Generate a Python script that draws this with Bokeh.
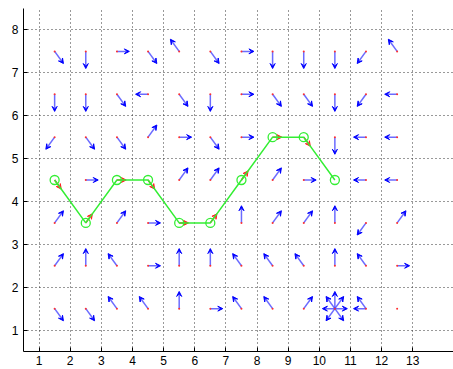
import numpy as np
from bokeh.plotting import figure
from bokeh.models import ColumnDataSource, Arrow, VeeHead, FixedTicker, Range1d
from bokeh.embed import file_html
from bokeh.resources import INLINE

# ---- data ----
col_centers = [1.5, 2.5, 3.5, 4.5, 5.5, 6.5, 7.5, 8.5, 9.5, 10.5, 11.5, 12.5]
row_centers = [7.5, 6.5, 5.5, 4.5, 3.5, 2.5, 1.5]
# policy per cell; "P" = on path, "." = no action, "+" joins several actions
policy_row_75 = ["SE", "S", "E", "SE", "NW", "SE", "E", "S", "S", "S", "SW", "NW"]
policy_row_65 = ["S", "S", "SE", "W", "SE", "S", "E", "SE", "SE", "S", "SW", "W"]
policy_row_55 = ["SW", "SE", "SE", "NE", "E", "SE", "E", "P", "P", "S", "W", "W"]
policy_row_45 = ["P", "E", "P", "P", "NE", "NE", "P", "NE", "E", "P", "W", "W"]
policy_row_35 = ["NE", "P", "NE", "E", "P", "P", "N", "NE", "NE", "N", "SW", "NE"]
policy_row_25 = ["NE", "N", "NW", "E", "N", "N", "NW", "NW", "NW", "N", "NW", "E"]
policy_row_15 = ["SE", "SE", "NW", "NW", "N", "E", "NW", "NW", "NE",
                 "N+NE+NW+E+W+SE+SW", "NW+W", "."]
policy = [policy_row_75, policy_row_65, policy_row_55, policy_row_45,
          policy_row_35, policy_row_25, policy_row_15]

path_x = [1.5, 2.5, 3.5, 4.5, 5.5, 6.5, 7.5, 8.5, 9.5, 10.5]
path_y = [4.5, 3.5, 4.5, 4.5, 3.5, 3.5, 4.5, 5.5, 5.5, 4.5]

x_ticks = [1, 2, 3, 4, 5, 6, 7, 8, 9, 10, 11, 12, 13]
y_ticks = [1, 2, 3, 4, 5, 6, 7, 8]

DIRS = {"N": (0, 1), "S": (0, -1), "E": (1, 0), "W": (-1, 0),
        "NE": (1, 1), "NW": (-1, 1), "SE": (1, -1), "SW": (-1, -1)}
ARROW_LEN = 0.4
PATH_ARROW_LEN = 0.3

# ---- build arrow endpoints from policy ----
x0, y0, x1, y1 = [], [], [], []
bx, by = [], []
for r, row in enumerate(policy):
    for c, cell in enumerate(row):
        cx, cy = col_centers[c], row_centers[r]
        if cell == "P":
            continue
        bx.append(cx); by.append(cy)
        if cell == ".":
            continue
        for d in cell.split("+"):
            ux, uy = DIRS[d]
            n = np.hypot(ux, uy)
            x0.append(cx); y0.append(cy)
            x1.append(cx + ARROW_LEN * ux / n)
            y1.append(cy + ARROW_LEN * uy / n)

px0, py0, px1, py1 = [], [], [], []
for i in range(len(path_x) - 1):
    dx = path_x[i + 1] - path_x[i]
    dy = path_y[i + 1] - path_y[i]
    n = np.hypot(dx, dy)
    px0.append(path_x[i]); py0.append(path_y[i])
    px1.append(path_x[i] + PATH_ARROW_LEN * dx / n)
    py1.append(path_y[i] + PATH_ARROW_LEN * dy / n)

# ---- figure ----
p = figure(width=453, height=369, x_range=Range1d(0.5, 14.31), y_range=Range1d(0.5, 8.5),
           output_backend="svg", toolbar_location=None,
           min_border_left=23, min_border_right=0, min_border_top=8, min_border_bottom=18)
p.outline_line_color = None
p.background_fill_color = "white"

for ax, ticks in ((p.xaxis, x_ticks), (p.yaxis, y_ticks)):
    ax.ticker = FixedTicker(ticks=ticks)
    ax.major_tick_in = 4
    ax.major_tick_out = 0
    ax.minor_tick_line_color = None
    ax.axis_line_color = "black"
    ax.major_tick_line_color = "black"
    ax.major_label_text_font = "Liberation Sans"
    ax.major_label_text_font_size = "12px"
    ax.major_label_text_color = "black"
    ax.major_label_standoff = 4
p.yaxis.major_label_standoff = 5

p.xgrid.ticker = FixedTicker(ticks=x_ticks)
p.ygrid.ticker = FixedTicker(ticks=y_ticks)
for g in (p.xgrid, p.ygrid):
    g.grid_line_color = "#333333"
    g.grid_line_alpha = 1.0
    g.grid_line_dash = "1 3"
    g.grid_line_width = 1

src = ColumnDataSource(dict(x0=x0, y0=y0, x1=x1, y1=y1))
p.add_layout(Arrow(end=VeeHead(size=5, line_color="#0000ff", fill_color="#0000ff", line_width=1),
                   x_start="x0", y_start="y0", x_end="x1", y_end="y1", source=src,
                   line_color="#3a3aff", line_width=1.5, line_alpha=0.75, level="underlay"))

psrc = ColumnDataSource(dict(x0=px0, y0=py0, x1=px1, y1=py1))
p.add_layout(Arrow(end=VeeHead(size=5, line_color="#ff2020", fill_color="#ff2020", line_width=1),
                   x_start="x0", y_start="y0", x_end="x1", y_end="y1", source=psrc,
                   line_color="#ff2020", line_width=1.5, level="underlay"))

p.scatter(bx, by, size=2, color="#ff3030", line_width=0)

p.line(path_x, path_y, line_color="#33ee33", line_width=1.5)
p.scatter(path_x, path_y, marker="circle", size=9, fill_color=None,
          line_color="#33ee33", line_width=1.3)

open("out.html", "w").write(file_html(p, INLINE))
